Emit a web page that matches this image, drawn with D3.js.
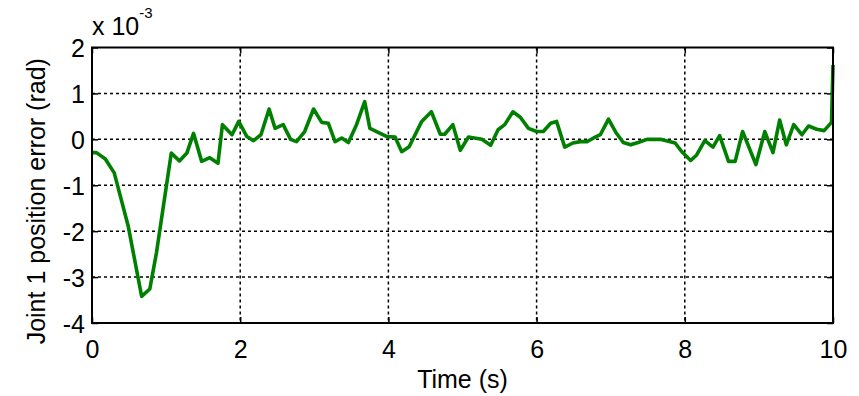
<!DOCTYPE html>
<html>
<head>
<meta charset="utf-8">
<script src="https://cdn.jsdelivr.net/npm/d3@7"></script>
<style>
  html, body { margin: 0; padding: 0; background: #fff; }
  text { font-family: Arial, "Liberation Sans", sans-serif; fill: #000; }
</style>
</head>
<body>
<svg id="chart" width="859" height="396"></svg>
<script>
// Joint 1 tracking error over time (values in units of 1e-3 rad)
const timeS = [0, 0.06, 0.18, 0.30, 0.49, 0.67, 0.78, 0.87, 1.07, 1.18, 1.28, 1.37, 1.48, 1.59, 1.70,
  1.76, 1.89, 1.98, 2.09, 2.18, 2.28, 2.39, 2.47, 2.58, 2.68, 2.76, 2.87, 2.99, 3.10, 3.19, 3.28,
  3.37, 3.46, 3.57, 3.68, 3.75, 3.98, 4.09, 4.18, 4.28, 4.45, 4.58, 4.70, 4.76, 4.87, 4.97, 5.08,
  5.26, 5.38, 5.48, 5.57, 5.68, 5.78, 5.89, 6.00, 6.09, 6.19, 6.27, 6.38, 6.49, 6.59, 6.68, 6.77,
  6.86, 6.97, 7.07, 7.17, 7.27, 7.37, 7.49, 7.67, 7.87, 7.96, 8.08, 8.16, 8.27, 8.38, 8.47, 8.59,
  8.68, 8.78, 8.96, 9.08, 9.19, 9.28, 9.37, 9.47, 9.58, 9.67, 9.78, 9.88, 9.98, 10.0];
const errorE3 = [-0.29, -0.29, -0.43, -0.73, -1.90, -3.42, -3.26, -2.47, -0.30, -0.47, -0.30, 0.13, -0.48, -0.40, -0.52,
  0.32, 0.10, 0.39, 0.06, -0.03, 0.10, 0.66, 0.24, 0.32, 0.00, -0.05, 0.17, 0.66, 0.37, 0.35, -0.05,
  0.03, -0.07, 0.32, 0.82, 0.24, 0.06, 0.05, -0.27, -0.16, 0.39, 0.60, 0.11, 0.11, 0.32, -0.24, 0.05,
  0.00, -0.13, 0.21, 0.32, 0.60, 0.48, 0.24, 0.17, 0.17, 0.35, 0.39, -0.17, -0.08, -0.05, -0.05, 0.03,
  0.10, 0.44, 0.15, -0.07, -0.12, -0.07, 0.00, 0.00, -0.08, -0.27, -0.46, -0.34, -0.03, -0.17, 0.08, -0.48,
  -0.48, 0.17, -0.55, 0.17, -0.29, 0.42, -0.12, 0.32, 0.10, 0.29, 0.22, 0.19, 0.37, 1.62];
const xTicks = [0, 2, 4, 6, 8, 10];
const yTicks = [-4, -3, -2, -1, 0, 1, 2];

const svg = d3.select("#chart");
const m = { left: 92, top: 47.5, right: 859 - 833, bottom: 396 - 323 };
const W = 859 - m.left - m.right, H = 396 - m.top - m.bottom;

const x = d3.scaleLinear().domain([0, 10]).range([0, W]);
const y = d3.scaleLinear().domain([-4, 2]).range([H, 0]);

const g = svg.append("g").attr("transform", `translate(${m.left},${m.top})`);

// dotted grid
const grid = g.append("g").attr("stroke", "#000").attr("stroke-width", 1.5).attr("stroke-dasharray", "3,3");
grid.selectAll(".vg").data(xTicks.slice(1, -1)).join("line")
  .attr("x1", d => x(d)).attr("x2", d => x(d)).attr("y1", 0).attr("y2", H);
grid.selectAll(".hg").data(yTicks.slice(1, -1)).join("line")
  .attr("y1", d => y(d)).attr("y2", d => y(d)).attr("x1", 0).attr("x2", W);

// axes with inward ticks; labels use a plain hyphen for negatives
const fs = 25;
const fmt = d => String(d);
const xAxis = g.append("g").attr("transform", `translate(0,${H})`)
  .call(d3.axisBottom(x).tickValues(xTicks).tickFormat(fmt).tickSizeInner(-6).tickSizeOuter(0).tickPadding(17));
const yAxis = g.append("g")
  .call(d3.axisLeft(y).tickValues(yTicks).tickFormat(fmt).tickSizeInner(-6).tickSizeOuter(0).tickPadding(7));
g.append("g")
  .call(d3.axisTop(x).tickValues(xTicks).tickFormat("").tickSizeInner(-6).tickSizeOuter(0));
g.append("g").attr("transform", `translate(${W},0)`)
  .call(d3.axisRight(y).tickValues(yTicks).tickFormat("").tickSizeInner(-6).tickSizeOuter(0));
g.selectAll(".domain").remove();
g.selectAll(".tick line").attr("stroke", "#000").attr("stroke-width", 1.5);
[xAxis, yAxis].forEach(a => a.selectAll("text").attr("font-size", fs).attr("fill", "#000")
  .style("font-family", "Arial, 'Liberation Sans', sans-serif"));
yAxis.selectAll("text").attr("dy", "0.36em");
xAxis.selectAll("text").attr("dy", "0.72em");

// data line
const line = d3.line().x((d, i) => x(timeS[i])).y(d => y(d));
g.append("path").datum(errorE3)
  .attr("d", line).attr("fill", "none").attr("stroke", "#008000")
  .attr("stroke-width", 3.6).attr("stroke-linejoin", "round");

// frame
g.append("rect").attr("width", W).attr("height", H)
  .attr("fill", "none").attr("stroke", "#000").attr("stroke-width", 2);

// exponent label
const ex = svg.append("text").attr("x", m.left).attr("y", 35).attr("font-size", 25);
ex.append("tspan").text("x 10");
ex.append("tspan").attr("font-size", 15).attr("dy", -17).text("-3");

// axis titles
svg.append("text").attr("x", m.left + W / 2).attr("y", 388).attr("text-anchor", "middle")
  .attr("font-size", fs).text("Time (s)");
svg.append("text").attr("transform", `translate(45,${m.top + H / 2 + 16}) rotate(-90)`)
  .attr("text-anchor", "middle").attr("font-size", fs).text("Joint 1 position error (rad)");
</script>
</body>
</html>
